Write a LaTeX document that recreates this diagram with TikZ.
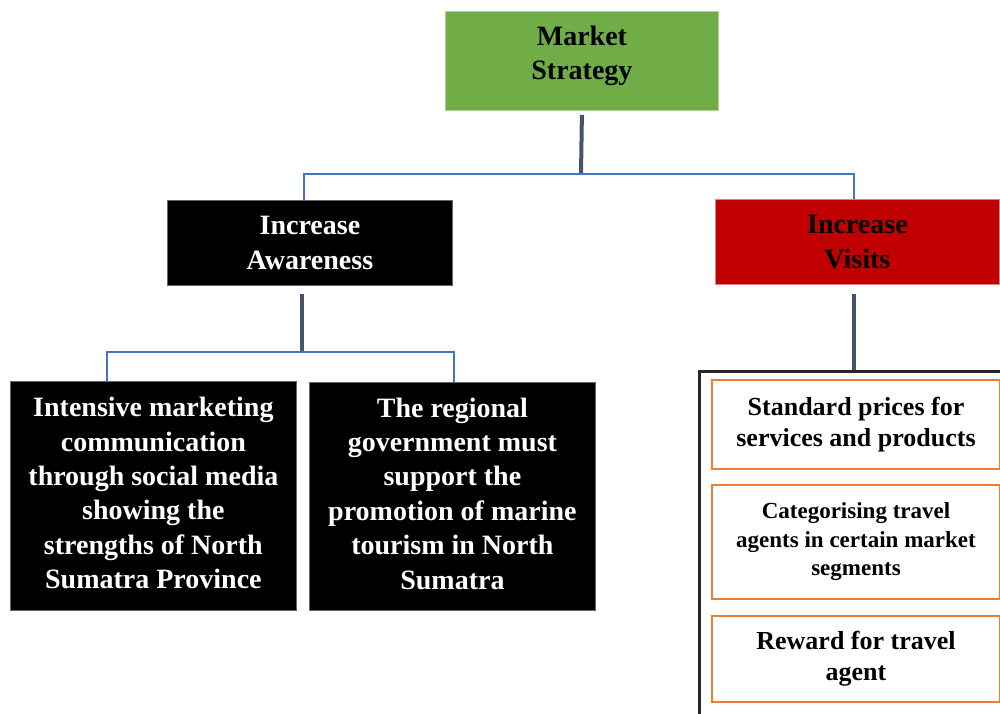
\documentclass[tikz,border=0pt]{standalone}
\usepackage{fontspec}
\setmainfont{Liberation Serif}
\usetikzlibrary{calc}
\definecolor{msgreen}{HTML}{70AD47}
\definecolor{ivred}{HTML}{C00000}
\definecolor{orbox}{HTML}{ED7D31}
\definecolor{connslate}{HTML}{44546A}
\definecolor{connblue}{HTML}{4472C4}
\begin{document}
\begin{tikzpicture}[x=1pt,y=-1pt,
  base/.style={anchor=north west, inner sep=0pt, align=center, font=\bfseries\fontsize{28}{34.4}\selectfont},
  greenbox/.style={base, fill=msgreen, draw=msgreen!55!white, line width=0.8pt},
  blackbox/.style={base, fill=black, text=white, draw=black!60, line width=0.8pt},
  redbox/.style={base, fill=ivred, draw=ivred!50!white, line width=0.8pt},
  orangebox/.style={base, draw=orbox, line width=2pt},
  groupbox/.style={anchor=north west, inner sep=0pt, draw=black!85, line width=2.5pt},
  thickconn/.style={draw=connslate, line width=4pt},
  thinconn/.style={draw=connblue, line width=2pt}]
\useasboundingbox (0,0) rectangle (1000,713);
\clip (0,0) rectangle (1000,713);

\node[greenbox, minimum width=273pt, minimum height=99pt, text depth=16pt] (ms) at (445,11) {Market\\Strategy};
\node[blackbox, minimum width=285pt, minimum height=85pt] (ia) at (167,200) {Increase\\Awareness};
\node[redbox, minimum width=284pt, minimum height=85pt] (iv) at (715,199) {Increase\\Visits};

\node[blackbox, minimum width=286pt, minimum height=229pt, text depth=6pt] (b1) at (10,381)
  {Intensive marketing\\communication\\through social media\\showing the\\strengths of North\\Sumatra Province};
\node[blackbox, minimum width=286pt, minimum height=228pt, text depth=6pt] (b2) at (309,382)
  {The regional\\government must\\support the\\promotion of marine\\tourism in North\\Sumatra};

\node[groupbox, minimum width=340pt, minimum height=380pt] (grp) at (698,370) {};
\node[orangebox, minimum width=288pt, minimum height=89pt, font=\bfseries\fontsize{26}{31}\selectfont] (o1) at (711,379)
  {Standard prices for\\services and products};
\node[orangebox, minimum width=288pt, minimum height=114pt, font=\bfseries\fontsize{23}{28.5}\selectfont] (o2) at (711,484)
  {Categorising travel\\agents in certain market\\segments};
\node[orangebox, minimum width=288pt, minimum height=86pt, font=\bfseries\fontsize{26}{31}\selectfont] (o3) at (711,615)
  {Reward for travel\\agent};

% connectors
\coordinate (j1) at (581,174);
\coordinate (ja) at (304,174);
\coordinate (jv) at (854,174);
\draw[thickconn] ($(ms.south)+(0,4)$) -- (j1);
\draw[thinconn] (ia.north -| ja) -- (ja) -- (jv) -- (iv.north -| jv);

\coordinate (j2) at (302,352);
\coordinate (jl) at (107,352);
\coordinate (jr) at (454,352);
\draw[thickconn] ($(ia.south -| j2)+(0,8)$) -- (j2);
\draw[thinconn] (b1.north -| jl) -- (jl) -- (jr) -- (b2.north -| jr);

\coordinate (j3) at (854,330);
\draw[thickconn] ($(iv.south -| j3)+(0,9)$) -- (grp.north -| j3);
\end{tikzpicture}
\end{document}
